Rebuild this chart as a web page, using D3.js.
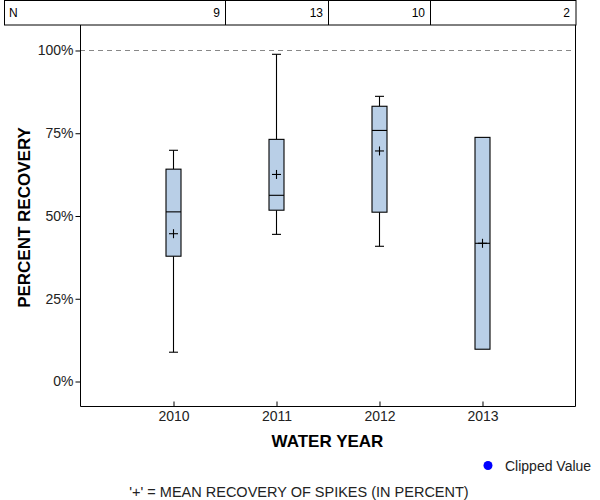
<!DOCTYPE html>
<html>
<head>
<meta charset="utf-8">
<script src="https://cdn.jsdelivr.net/npm/d3@7"></script>
<style>
  html, body { margin: 0; padding: 0; background: #fff; }
  svg { display: block; font-family: Arial, "Liberation Sans", sans-serif; }
</style>
</head>
<body>
<svg id="chart" width="600" height="500"></svg>
<script>
// ---- data ----
const years = [2010, 2011, 2012, 2013];
const counts = [9, 13, 10, 2];
const whiskerLow = [8.7, 44.3, 40.7, 9.6];
const q1 = [37.7, 51.6, 51.0, 9.6];
const medians = [51.1, 56.1, 75.7, 41.6];
const q3 = [64.0, 73.0, 83.0, 73.6];
const whiskerHigh = [69.7, 98.7, 86.0, 73.6];
const means = [44.5, 62.4, 69.5, 41.6];
const yTicks = [0, 25, 50, 75, 100];
const referenceLine = 100;

const svg = d3.select("#chart");
const pLeft = 80, pRight = 575, pTop = 25, pBottom = 406;

const x = d3.scalePoint().domain(years).range([pLeft, pRight]).padding(0.903);
const y = d3.scaleLinear().domain([-7.55, 107.55]).range([pBottom, pTop]);
const step = x.step();

// N table
const tbl = svg.append("g");
tbl.append("rect").attr("x", 4.5).attr("y", 0.5).attr("width", 571.5).attr("height", 24.5)
  .attr("fill", "none").attr("stroke", "#000");
years.slice(0, -1).forEach(yr => {
  const xx = Math.round(x(yr) + step / 2) + 0.5;
  tbl.append("line").attr("x1", xx).attr("x2", xx).attr("y1", 0).attr("y2", 25).attr("stroke", "#000");
});
tbl.append("text").attr("x", 9).attr("y", 17).attr("font-size", 12).text("N");
years.forEach((yr, i) => {
  const xr = i === years.length - 1 ? 570 : Math.round(x(yr) + step / 2) - 5;
  tbl.append("text").attr("x", xr).attr("y", 17).attr("font-size", 12)
    .attr("text-anchor", "end").text(counts[i]);
});

// reference dashed line
svg.append("line").attr("x1", pLeft).attr("x2", pRight)
  .attr("y1", Math.round(y(referenceLine)) + 0.5).attr("y2", Math.round(y(referenceLine)) + 0.5)
  .attr("stroke", "#888").attr("stroke-dasharray", "5,4");

// frame
svg.append("path").attr("d", `M${pLeft + 0.5},${pTop} V${pBottom + 0.5} H${pRight + 0.5} V${pTop}`)
  .attr("fill", "none").attr("stroke", "#000");

// y axis
const yAxis = svg.append("g").attr("transform", `translate(${pLeft + 0.5},0.5)`)
  .call(d3.axisLeft(y).tickValues(yTicks).tickSize(5).tickPadding(2).tickFormat(d => d + "%"));
yAxis.select(".domain").remove();
yAxis.selectAll("text").attr("font-size", 14).attr("fill", "#222").attr("font-family", null);

// x axis
const xAxis = svg.append("g").attr("transform", `translate(0.5,${pBottom + 0.5})`)
  .call(d3.axisBottom(x).tickSizeInner(-5).tickSizeOuter(0).tickPadding(5));
xAxis.select(".domain").remove();
xAxis.selectAll("text").attr("font-size", 14).attr("fill", "#222").attr("font-family", null);

// boxes
const bw = 15, cap = 9, cross = 9;
years.forEach((yr, i) => {
  const cx = Math.round(x(yr)) + 0.5;
  const g = svg.append("g").attr("stroke", "#000").attr("stroke-width", 1.1);
  if (whiskerHigh[i] > q3[i]) {
    g.append("line").attr("x1", cx).attr("x2", cx).attr("y1", y(q3[i])).attr("y2", y(whiskerHigh[i]));
    g.append("line").attr("x1", cx - cap / 2).attr("x2", cx + cap / 2).attr("y1", y(whiskerHigh[i])).attr("y2", y(whiskerHigh[i]));
  }
  if (whiskerLow[i] < q1[i]) {
    g.append("line").attr("x1", cx).attr("x2", cx).attr("y1", y(q1[i])).attr("y2", y(whiskerLow[i]));
    g.append("line").attr("x1", cx - cap / 2).attr("x2", cx + cap / 2).attr("y1", y(whiskerLow[i])).attr("y2", y(whiskerLow[i]));
  }
  g.append("rect").attr("x", cx - bw / 2).attr("y", y(q3[i]))
    .attr("width", bw).attr("height", y(q1[i]) - y(q3[i]))
    .attr("fill", "#b9cfe7");
  g.append("line").attr("x1", cx - bw / 2).attr("x2", cx + bw / 2).attr("y1", y(medians[i])).attr("y2", y(medians[i]));
  const my = y(means[i]);
  g.append("line").attr("x1", cx - cross / 2).attr("x2", cx + cross / 2).attr("y1", my).attr("y2", my);
  g.append("line").attr("x1", cx).attr("x2", cx).attr("y1", my - cross / 2).attr("y2", my + cross / 2);
});

// axis titles
svg.append("text").attr("x", (pLeft + pRight) / 2).attr("y", 447).attr("text-anchor", "middle")
  .attr("font-size", 17).attr("font-weight", "bold").text("WATER YEAR");
svg.append("text").attr("transform", `translate(30,${(pTop + pBottom) / 2 + 2}) rotate(-90)`)
  .attr("text-anchor", "middle").attr("font-size", 17).attr("font-weight", "bold").text("PERCENT RECOVERY");

// legend
svg.append("circle").attr("cx", 488).attr("cy", 465.5).attr("r", 4.5).attr("fill", "#0000ff");
svg.append("text").attr("x", 505).attr("y", 471).attr("font-size", 14).attr("fill", "#222").text("Clipped Value");

// footnote
svg.append("text").attr("x", 299).attr("y", 497).attr("text-anchor", "middle")
  .attr("font-size", 14.5).attr("fill", "#222").text("'+' = MEAN RECOVERY OF SPIKES (IN PERCENT)");
</script>
</body>
</html>
